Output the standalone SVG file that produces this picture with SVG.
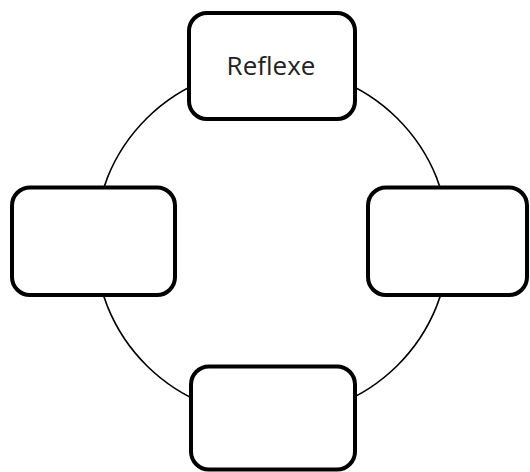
<svg xmlns="http://www.w3.org/2000/svg" width="530" height="472" viewBox="0 0 530 472">
<style>
.node rect{fill:#fff;stroke:#000;stroke-width:4}
.ring{fill:none;stroke:#000;stroke-width:1.6}
.lbl{font-family:"Open Sans","Liberation Sans",sans-serif;font-size:26px;fill:#222;text-anchor:middle}
</style>
<rect width="530" height="472" fill="#fff"/>
<g id="connectors">
<ellipse class="ring" cx="272" cy="242" rx="177" ry="175"/>
</g>
<g id="node-top" class="node">
<rect x="189" y="13" width="166" height="106" rx="18"/>
<text class="lbl" x="271" y="75">Reflexe</text>
</g>
<g id="node-left" class="node">
<rect x="12" y="187.5" width="163" height="107.5" rx="18"/>
</g>
<g id="node-right" class="node">
<rect x="368" y="187.5" width="159" height="107.5" rx="18"/>
</g>
<g id="node-bottom" class="node">
<rect x="191" y="366.5" width="164" height="103" rx="18"/>
</g>
</svg>
